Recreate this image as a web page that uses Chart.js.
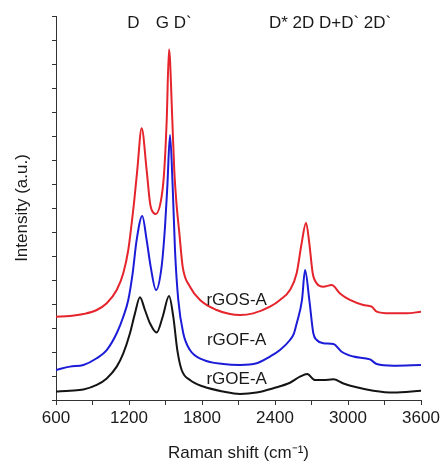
<!DOCTYPE html>
<html lang="en">
<head>
  <meta charset="UTF-8" />
  <title>Raman spectra</title>
  <script src="https://cdn.jsdelivr.net/npm/chart.js"></script>
  <style>
    html, body { margin: 0; padding: 0; background: #fff; }
    #ramanChart { display: block; }
  </style>
</head>
<body>
  <canvas id="ramanChart" width="443" height="464"></canvas>

  <script>
    // Raman shift (cm-1) and stacked intensity (a.u.) for each sample
    const gosShift = [600, 715, 825, 935, 1017, 1099, 1153, 1194, 1222, 1241, 1268, 1304, 1345, 1373, 1386, 1420, 1468, 1490, 1510, 1529, 1556, 1572, 1590, 1614, 1641, 1701, 1784, 1921, 2030, 2112, 2221, 2359, 2441, 2523, 2578, 2619, 2655, 2682, 2710, 2743, 2797, 2866, 2934, 3016, 3126, 3195, 3236, 3345, 3482, 3600];
    const gosIntensity = [3.47, 3.5, 3.58, 3.75, 4.03, 4.58, 5.28, 6.25, 7.36, 8.2, 9.58, 11.32, 9.58, 8.2, 7.92, 7.75, 8.47, 9.58, 11.67, 14.61, 11.67, 9.58, 8.2, 6.94, 5.56, 4.72, 4.17, 3.75, 3.58, 3.54, 3.61, 3.89, 4.17, 4.58, 5.28, 6.53, 7.39, 6.53, 5.28, 4.86, 4.72, 4.79, 4.44, 4.17, 3.96, 3.89, 3.68, 3.61, 3.61, 3.68];

    const gofShift = [600, 715, 825, 935, 1017, 1099, 1153, 1194, 1230, 1263, 1309, 1345, 1378, 1422, 1468, 1496, 1515, 1537, 1559, 1578, 1605, 1646, 1701, 1811, 1975, 2112, 2249, 2359, 2441, 2523, 2556, 2578, 2622, 2647, 2682, 2715, 2743, 2797, 2880, 2948, 3044, 3181, 3236, 3373, 3600];
    const gofIntensity = [1.25, 1.39, 1.46, 1.74, 2.08, 2.78, 3.47, 4.17, 5.28, 6.67, 7.67, 6.67, 5.56, 4.58, 5.56, 7.22, 8.89, 11.04, 8.89, 6.25, 4.17, 2.78, 2.08, 1.67, 1.5, 1.46, 1.53, 1.81, 2.08, 2.5, 2.78, 3.19, 4.17, 5.42, 4.17, 2.78, 2.5, 2.36, 2.33, 2.01, 1.81, 1.69, 1.5, 1.43, 1.46];

    const goeShift = [600, 715, 825, 935, 1017, 1099, 1153, 1208, 1249, 1290, 1331, 1373, 1427, 1477, 1529, 1564, 1597, 1633, 1701, 1811, 1975, 2112, 2249, 2386, 2523, 2605, 2665, 2729, 2797, 2880, 2962, 3071, 3208, 3373, 3600];
    const goeIntensity = [0.35, 0.39, 0.44, 0.63, 0.9, 1.39, 1.94, 2.78, 3.61, 4.28, 3.75, 3.19, 2.81, 3.47, 4.33, 3.47, 2.08, 1.25, 0.83, 0.56, 0.35, 0.25, 0.31, 0.49, 0.72, 0.97, 1.08, 0.83, 0.83, 0.86, 0.69, 0.53, 0.39, 0.31, 0.39];

    const sampleNames = ['rGOS-A', 'rGOF-A', 'rGOE-A'];
    const sampleColors = ['#e5242c', '#1c1cd8', '#141414'];
    const xTickValues = [600, 1200, 1800, 2400, 3000, 3600];

    const FONT = '"Liberation Sans", Arial, sans-serif';

    function toPoints(xs, ys) {
      return xs.map((x, i) => ({ x: x, y: ys[i] }));
    }

    // peak names across the top and sample names beside each trace
    const labelsPlugin = {
      id: 'ramanLabels',
      afterDatasetsDraw(chart) {
        const { ctx, scales: { x, y } } = chart;
        ctx.save();
        ctx.fillStyle = '#1a1a1a';
        ctx.font = '17px ' + FONT;
        ctx.textBaseline = 'middle';
        ctx.textAlign = 'left';
        ctx.fillText('D', x.getPixelForValue(1185), y.getPixelForValue(15.7));
        ctx.fillText('G D`', x.getPixelForValue(1420), y.getPixelForValue(15.7));
        ctx.fillText('D* 2D D+D` 2D`', x.getPixelForValue(2350), y.getPixelForValue(15.7));

        ctx.textAlign = 'center';
        const labelY = [4.17, 2.5, 0.88];
        sampleNames.forEach((name, i) => {
          ctx.fillText(name, x.getPixelForValue(2085), y.getPixelForValue(labelY[i]));
        });
        ctx.restore();
      }
    };

    new Chart(document.getElementById('ramanChart'), {
      type: 'line',
      data: {
        datasets: [
          { label: sampleNames[2], data: toPoints(goeShift, goeIntensity), borderColor: sampleColors[2] },
          { label: sampleNames[1], data: toPoints(gofShift, gofIntensity), borderColor: sampleColors[1] },
          { label: sampleNames[0], data: toPoints(gosShift, gosIntensity), borderColor: sampleColors[0] }
        ]
      },
      options: {
        responsive: false,
        animation: false,
        devicePixelRatio: 1,
        layout: { padding: { top: 16, right: 22, bottom: 0, left: 0 } },
        elements: {
          line: { borderWidth: 2, cubicInterpolationMode: 'monotone', fill: false },
          point: { radius: 0 }
        },
        plugins: {
          legend: { display: false },
          tooltip: { enabled: false }
        },
        scales: {
          x: {
            type: 'linear',
            min: 600,
            max: 3600,
            afterFit(scale) { scale.height = 64; },
            border: { display: true, color: '#333', width: 1 },
            grid: { drawOnChartArea: false, drawTicks: true, tickLength: 5, color: '#333' },
            ticks: {
              stepSize: 300,
              padding: 3,
              color: '#1a1a1a',
              font: { family: FONT, size: 17 },
              maxRotation: 0,
              autoSkip: false,
              callback: v => xTickValues.includes(v) ? String(v) : ''
            },
            title: {
              display: true,
              text: 'Raman shift (cm⁻¹)',
              color: '#1a1a1a',
              font: { family: FONT, size: 17 },
              padding: { top: 0, bottom: 0 }
            }
          },
          y: {
            type: 'linear',
            min: 0,
            max: 16,
            afterFit(scale) { scale.width = 56; },
            border: { display: true, color: '#333', width: 1 },
            grid: { drawOnChartArea: false, drawTicks: true, tickLength: 4, color: '#333' },
            ticks: { stepSize: 1, display: false },
            title: {
              display: true,
              text: 'Intensity (a.u.)',
              color: '#1a1a1a',
              font: { family: FONT, size: 17 },
              padding: { top: 12, bottom: 0 }
            }
          }
        }
      },
      plugins: [labelsPlugin]
    });
  </script>
</body>
</html>
